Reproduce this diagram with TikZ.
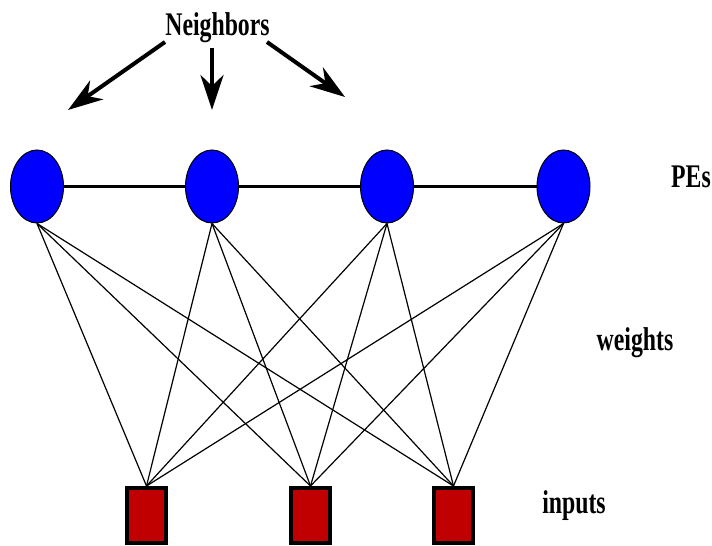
\documentclass[tikz,border=0pt]{standalone}
\usepackage{fontspec}
\usetikzlibrary{shapes.geometric,arrows.meta}
\newfontfamily\lblfont{Liberation Serif}[FakeStretch=0.72]
\definecolor{peblue}{RGB}{0,0,255}
\definecolor{inred}{RGB}{192,0,0}
\begin{document}
\begin{tikzpicture}[x=1pt,y=-1pt,
  pe/.style={ellipse,draw=black,line width=1pt,fill=peblue,minimum width=53pt,minimum height=73pt,inner sep=0pt},
  inbox/.style={rectangle,draw=black,line width=4pt,fill=inred,minimum width=39pt,minimum height=55pt,inner sep=0pt},
  lbl/.style={font=\lblfont\bfseries\fontsize{33}{36}\selectfont,inner sep=0pt,anchor=base},
  ring/.style={line width=3.6pt},
  weight/.style={line width=1.2pt},
  nbarrow/.style={line width=4pt,-{Stealth[length=35pt,width=23pt,inset=11pt]}}]
\useasboundingbox (0,0) rectangle (712,546);

% processing elements
\node[pe] (p1) at (37,186.5) {};
\node[pe] (p2) at (212,186.5) {};
\node[pe] (p3) at (387,186.5) {};
\node[pe] (p4) at (563.5,186.5) {};

% input units
\node[inbox] (i1) at (146.5,515.5) {};
\node[inbox] (i2) at (310.5,515.5) {};
\node[inbox] (i3) at (453.5,515.5) {};

% neighbourhood links
\draw[ring] (p1) -- (p2);
\draw[ring] (p2) -- (p3);
\draw[ring] (p3) -- (p4);

% weighted connections
\foreach \p in {p1,p2,p3,p4}
  \foreach \i in {i1,i2,i3}
    \draw[weight] (\p.south) -- (\i.north);

% labels
\node[lbl] (nb) at (217.5,35.5) {Neighbors};
\node[lbl] (pes) at (691,187) {PEs};
\node[lbl] (wts) at (635,350) {weights};
\node[lbl] (inp) at (574,513) {inputs};

% neighbour arrows
\coordinate (a1s) at (165,42);
\coordinate (a1e) at (68,110);
\coordinate (a2s) at (212,48);
\coordinate (a2e) at (212,110);
\coordinate (a3s) at (267,42);
\coordinate (a3e) at (345,97);
\draw[nbarrow] (a1s) -- (a1e);
\draw[nbarrow] (a2s) -- (a2e);
\draw[nbarrow] (a3s) -- (a3e);
\end{tikzpicture}
\end{document}
